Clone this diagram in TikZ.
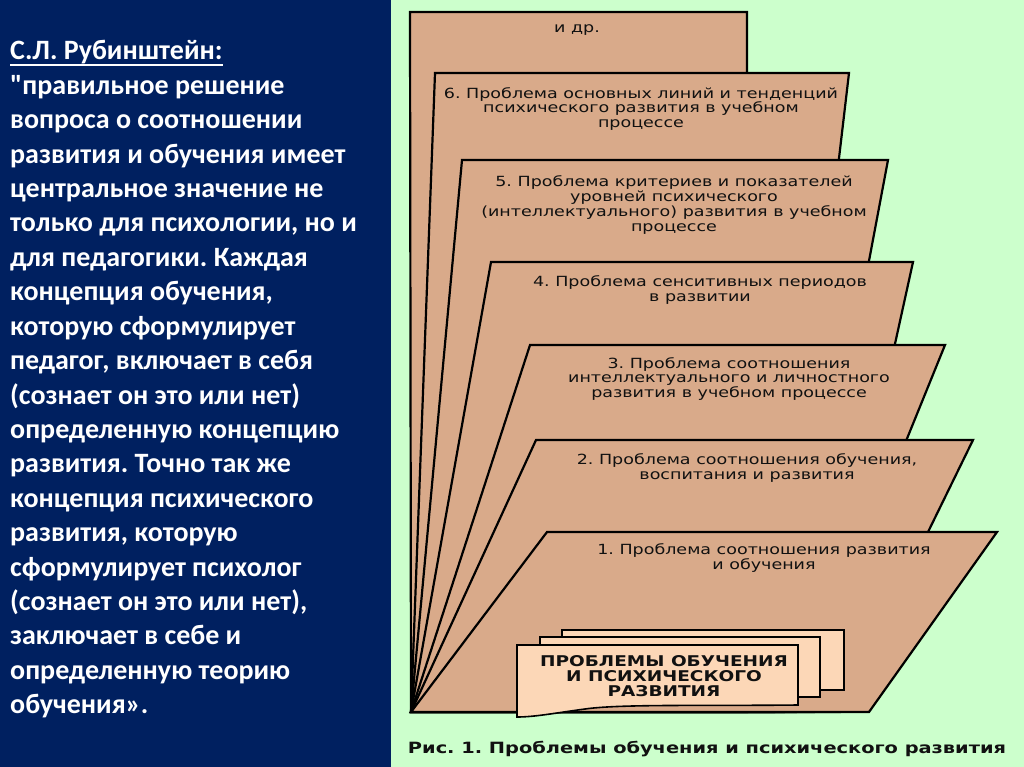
\documentclass[tikz,border=0pt]{standalone}
\usepackage{fontspec}
\setmainfont{Carlito}[Ligatures=TeXOff]
\newfontfamily\vfont[FakeStretch=1.25]{DejaVu Sans}
\newfontfamily\vfontb[FakeStretch=1.25]{DejaVu Sans Bold}
\definecolor{navy}{HTML}{002060}
\definecolor{bggreen}{HTML}{CCFFCC}
\definecolor{pagec}{HTML}{D9AA8A}
\definecolor{boxc}{HTML}{FCD7B7}
\definecolor{ink}{HTML}{111111}
\frenchspacing
\begin{document}
\begin{tikzpicture}[x=1pt,y=-1pt,
  page/.style={fill=pagec,draw=black,line width=2.2pt,line join=miter},
  card/.style={fill=boxc,draw=black,line width=1.6pt,line join=miter},
  ptext/.style={font=\vfont\fontsize{14}{14.7}\selectfont,align=center,text=ink,inner sep=0pt},
  btext/.style={font=\vfontb\fontsize{14.8}{15}\selectfont,align=center,text=ink,inner sep=0pt},
  ltext/.style={font=\bfseries\fontsize{28}{34.4}\selectfont,text=white,anchor=base west,inner sep=0pt}]
\useasboundingbox (0,0) rectangle (1024,767);
\fill[navy] (0,0) rectangle (391,767);
\fill[bggreen] (391,0) rectangle (1024,767);

% left quotation
\foreach \t [count=\i] in {
  {С.Л. Рубинштейн:},
  {"правильное решение},
  {вопроса о соотношении},
  {развития и обучения имеет},
  {центральное значение не},
  {только для психологии, но и},
  {для педагогики. Каждая},
  {концепция обучения,},
  {которую сформулирует},
  {педагог, включает в себя},
  {(сознает он это или нет)},
  {определенную концепцию},
  {развития. Точно так же},
  {концепция психического},
  {развития, которую},
  {сформулирует психолог},
  {(сознает он это или нет),},
  {заключает в себе и},
  {определенную теорию},
  {обучения».}}
  \node[ltext] (q\i) at (10,{60+34.4*(\i-1)}) {\t};
\draw[white,line width=1.4pt] ([yshift=-5pt]q1.base west) -- ([yshift=-5pt]q1.base east);

% pages, back to front
\coordinate (A) at (411,712);
\draw[page] (410,12) -- (747,12) -- (747,712) -- (A) -- cycle;
\draw[page] (435,73) -- (849,73) -- (774,712) -- (A) -- cycle;
\draw[page] (462,160) -- (888,160) -- (784,712) -- (A) -- cycle;
\draw[page] (491,262) -- (913,262) -- (814,712) -- (A) -- cycle;
\draw[page] (530,345) -- (945,345) -- (796,712) -- (A) -- cycle;
\draw[page] (536,440) -- (973,440) -- (840,712) -- (A) -- cycle;
\draw[page] (547,532) -- (997,532) -- (869,712) -- (A) -- cycle;

\node[ptext] (t7) at (577,30) {и др.};
\node[ptext] (t6) at (641,109) {6. Проблема основных линий и тенденций\\психического развития в учебном\\процессе};
\node[ptext] (t5) at (674,205) {5. Проблема критериев и показателей\\уровней психического\\(интеллектуального) развития в учебном\\процессе};
\node[ptext] (t4) at (700,290) {4. Проблема сенситивных периодов\\в развитии};
\node[ptext] (t3) at (729,379) {3. Проблема соотношения\\интеллектуального и личностного\\развития в учебном процессе};
\node[ptext] (t2) at (747,468) {2. Проблема соотношения обучения,\\воспитания и развития};
\node[ptext] (t1) at (764,558) {1. Проблема соотношения развития\\и обучения};

% cards
\draw[card] (562,630) rectangle (844,690);
\draw[card] (540,637) rectangle (820,697);
\draw[card] (517,645) -- (798,645) -- (798,705)
  .. controls (700,706) and (620,704) .. (585,709)
  .. controls (555,713) and (535,717) .. (517,717) -- cycle;
\node[btext] (ct) at (664,676) {ПРОБЛЕМЫ ОБУЧЕНИЯ\\И ПСИХИЧЕСКОГО\\РАЗВИТИЯ};

\node[btext,font=\vfontb\fontsize{15.5}{15}\selectfont] (cap) at (707,749) {Рис. 1. Проблемы обучения и психического развития};
\end{tikzpicture}
\end{document}
